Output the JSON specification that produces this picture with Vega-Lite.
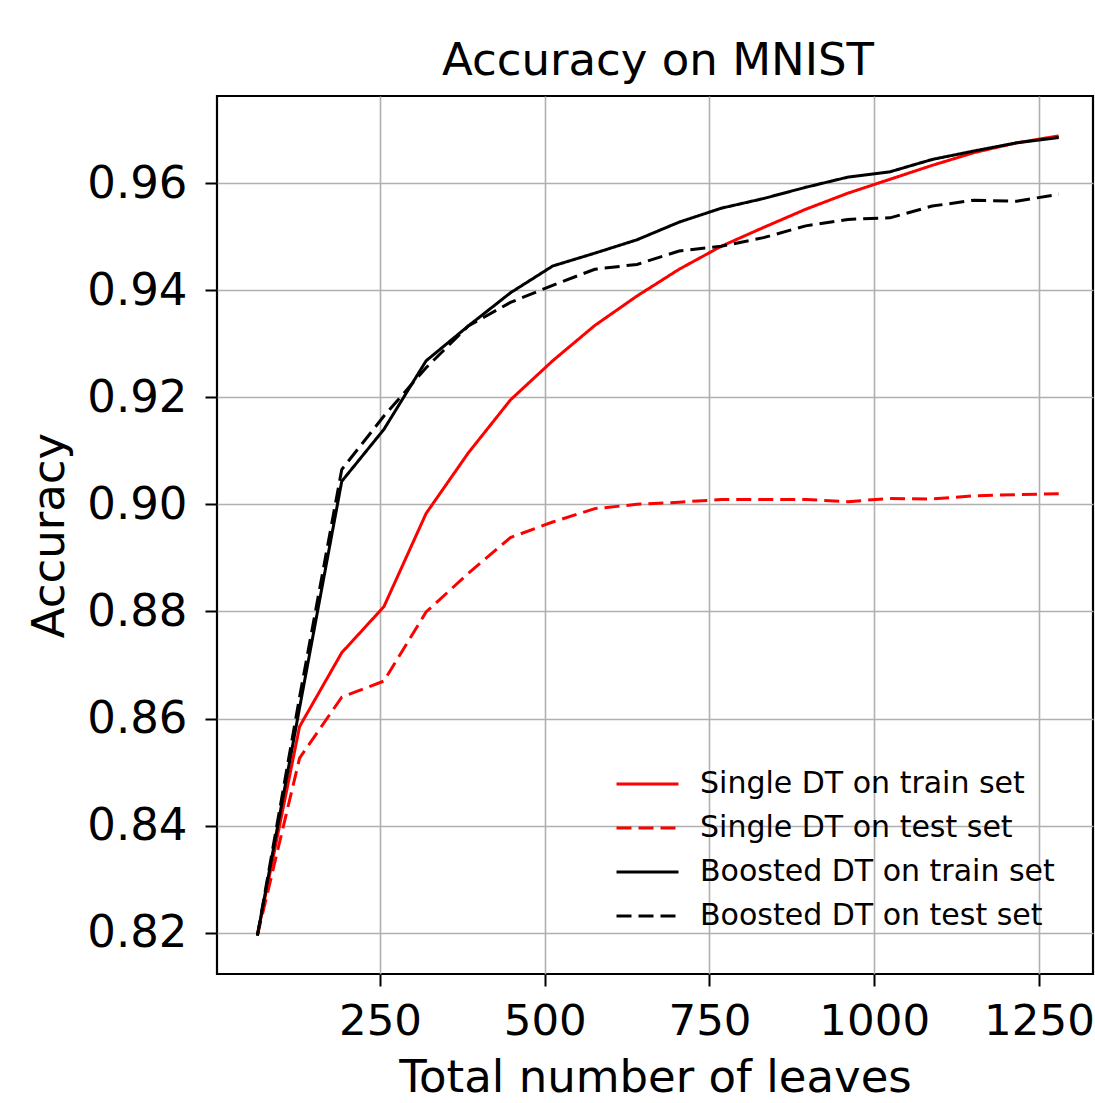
{
  "$schema": "https://vega.github.io/schema/vega-lite/v6.json",
  "autosize": "none",
  "width": 876,
  "height": 878,
  "padding": {"left": 217, "top": 96, "right": 2, "bottom": 129},
  "background": "white",
  "title": {"text": "Accuracy on MNIST", "anchor": "middle", "fontSize": 45, "font": "DejaVu Sans", "fontWeight": "normal", "color": "black", "offset": 12, "dx": 3},
  "config": {
    "font": "DejaVu Sans",
    "view": {"stroke": "black", "strokeWidth": 2.2},
    "axis": {
      "labelFont": "DejaVu Sans", "titleFont": "DejaVu Sans",
      "labelFontSize": 45, "titleFontSize": 45, "titleFontWeight": "normal",
      "labelColor": "black", "titleColor": "black",
      "domain": false,
      "ticks": true, "tickColor": "black", "tickWidth": 2, "tickSize": 12,
      "grid": true, "gridColor": "#b0b0b0", "gridWidth": 1.6
    },
    "legend": {
      "orient": "none", "legendX": 398, "legendY": 666,
      "title": null,
      "symbolType": "stroke", "symbolSize": 3844, "symbolStrokeWidth": 3,
      "labelFont": "DejaVu Sans", "labelFontSize": 30, "labelColor": "black",
      "labelOffset": 20, "clipHeight": 44, "rowPadding": 0, "labelLimit": 600
    }
  },
  "data": {"values": [
    {"leaves": 64, "acc": 0.8195, "series": "Single DT on train set"},
    {"leaves": 128, "acc": 0.8585, "series": "Single DT on train set"},
    {"leaves": 192, "acc": 0.8723, "series": "Single DT on train set"},
    {"leaves": 256, "acc": 0.8809, "series": "Single DT on train set"},
    {"leaves": 320, "acc": 0.8983, "series": "Single DT on train set"},
    {"leaves": 384, "acc": 0.9096, "series": "Single DT on train set"},
    {"leaves": 448, "acc": 0.9195, "series": "Single DT on train set"},
    {"leaves": 512, "acc": 0.9268, "series": "Single DT on train set"},
    {"leaves": 576, "acc": 0.9334, "series": "Single DT on train set"},
    {"leaves": 640, "acc": 0.9389, "series": "Single DT on train set"},
    {"leaves": 704, "acc": 0.9439, "series": "Single DT on train set"},
    {"leaves": 768, "acc": 0.9482, "series": "Single DT on train set"},
    {"leaves": 832, "acc": 0.9517, "series": "Single DT on train set"},
    {"leaves": 896, "acc": 0.9551, "series": "Single DT on train set"},
    {"leaves": 960, "acc": 0.9581, "series": "Single DT on train set"},
    {"leaves": 1024, "acc": 0.9607, "series": "Single DT on train set"},
    {"leaves": 1088, "acc": 0.9633, "series": "Single DT on train set"},
    {"leaves": 1152, "acc": 0.9657, "series": "Single DT on train set"},
    {"leaves": 1216, "acc": 0.9675, "series": "Single DT on train set"},
    {"leaves": 1280, "acc": 0.9688, "series": "Single DT on train set"},
    {"leaves": 64, "acc": 0.8195, "series": "Single DT on test set"},
    {"leaves": 128, "acc": 0.8526, "series": "Single DT on test set"},
    {"leaves": 192, "acc": 0.8640, "series": "Single DT on test set"},
    {"leaves": 256, "acc": 0.8670, "series": "Single DT on test set"},
    {"leaves": 320, "acc": 0.8799, "series": "Single DT on test set"},
    {"leaves": 384, "acc": 0.8871, "series": "Single DT on test set"},
    {"leaves": 448, "acc": 0.8938, "series": "Single DT on test set"},
    {"leaves": 512, "acc": 0.8967, "series": "Single DT on test set"},
    {"leaves": 576, "acc": 0.8992, "series": "Single DT on test set"},
    {"leaves": 640, "acc": 0.9000, "series": "Single DT on test set"},
    {"leaves": 704, "acc": 0.9004, "series": "Single DT on test set"},
    {"leaves": 768, "acc": 0.9009, "series": "Single DT on test set"},
    {"leaves": 832, "acc": 0.9009, "series": "Single DT on test set"},
    {"leaves": 896, "acc": 0.9009, "series": "Single DT on test set"},
    {"leaves": 960, "acc": 0.9005, "series": "Single DT on test set"},
    {"leaves": 1024, "acc": 0.9011, "series": "Single DT on test set"},
    {"leaves": 1088, "acc": 0.9010, "series": "Single DT on test set"},
    {"leaves": 1152, "acc": 0.9016, "series": "Single DT on test set"},
    {"leaves": 1216, "acc": 0.9018, "series": "Single DT on test set"},
    {"leaves": 1280, "acc": 0.9020, "series": "Single DT on test set"},
    {"leaves": 64, "acc": 0.8195, "series": "Boosted DT on train set"},
    {"leaves": 128, "acc": 0.8620, "series": "Boosted DT on train set"},
    {"leaves": 192, "acc": 0.9043, "series": "Boosted DT on train set"},
    {"leaves": 256, "acc": 0.9140, "series": "Boosted DT on train set"},
    {"leaves": 320, "acc": 0.9268, "series": "Boosted DT on train set"},
    {"leaves": 384, "acc": 0.9333, "series": "Boosted DT on train set"},
    {"leaves": 448, "acc": 0.9395, "series": "Boosted DT on train set"},
    {"leaves": 512, "acc": 0.9445, "series": "Boosted DT on train set"},
    {"leaves": 576, "acc": 0.9469, "series": "Boosted DT on train set"},
    {"leaves": 640, "acc": 0.9494, "series": "Boosted DT on train set"},
    {"leaves": 704, "acc": 0.9527, "series": "Boosted DT on train set"},
    {"leaves": 768, "acc": 0.9553, "series": "Boosted DT on train set"},
    {"leaves": 832, "acc": 0.9571, "series": "Boosted DT on train set"},
    {"leaves": 896, "acc": 0.9592, "series": "Boosted DT on train set"},
    {"leaves": 960, "acc": 0.9611, "series": "Boosted DT on train set"},
    {"leaves": 1024, "acc": 0.9621, "series": "Boosted DT on train set"},
    {"leaves": 1088, "acc": 0.9644, "series": "Boosted DT on train set"},
    {"leaves": 1152, "acc": 0.9660, "series": "Boosted DT on train set"},
    {"leaves": 1216, "acc": 0.9675, "series": "Boosted DT on train set"},
    {"leaves": 1280, "acc": 0.9685, "series": "Boosted DT on train set"},
    {"leaves": 64, "acc": 0.8195, "series": "Boosted DT on test set"},
    {"leaves": 128, "acc": 0.8640, "series": "Boosted DT on test set"},
    {"leaves": 192, "acc": 0.9065, "series": "Boosted DT on test set"},
    {"leaves": 256, "acc": 0.9165, "series": "Boosted DT on test set"},
    {"leaves": 320, "acc": 0.9255, "series": "Boosted DT on test set"},
    {"leaves": 384, "acc": 0.9333, "series": "Boosted DT on test set"},
    {"leaves": 448, "acc": 0.9377, "series": "Boosted DT on test set"},
    {"leaves": 512, "acc": 0.9409, "series": "Boosted DT on test set"},
    {"leaves": 576, "acc": 0.9439, "series": "Boosted DT on test set"},
    {"leaves": 640, "acc": 0.9448, "series": "Boosted DT on test set"},
    {"leaves": 704, "acc": 0.9473, "series": "Boosted DT on test set"},
    {"leaves": 768, "acc": 0.9482, "series": "Boosted DT on test set"},
    {"leaves": 832, "acc": 0.9498, "series": "Boosted DT on test set"},
    {"leaves": 896, "acc": 0.9520, "series": "Boosted DT on test set"},
    {"leaves": 960, "acc": 0.9532, "series": "Boosted DT on test set"},
    {"leaves": 1024, "acc": 0.9535, "series": "Boosted DT on test set"},
    {"leaves": 1088, "acc": 0.9557, "series": "Boosted DT on test set"},
    {"leaves": 1152, "acc": 0.9568, "series": "Boosted DT on test set"},
    {"leaves": 1216, "acc": 0.9566, "series": "Boosted DT on test set"},
    {"leaves": 1280, "acc": 0.9579, "series": "Boosted DT on test set"}
  ]},
  "mark": {"type": "line", "strokeWidth": 3, "clip": true},
  "encoding": {
    "x": {"field": "leaves", "type": "quantitative", "title": "Total number of leaves",
      "scale": {"domain": [2.7, 1332], "nice": false, "zero": false},
      "axis": {"values": [250, 500, 750, 1000, 1250], "format": "d", "labelFontSize": 43.5, "labelPadding": 14, "titlePadding": 13}},
    "y": {"field": "acc", "type": "quantitative", "title": "Accuracy",
      "scale": {"domain": [0.8123, 0.97625], "nice": false, "zero": false},
      "axis": {"values": [0.82, 0.84, 0.86, 0.88, 0.9, 0.92, 0.94, 0.96], "format": ".2f", "labelPadding": 18, "titlePadding": 14}},
    "color": {"field": "series", "type": "nominal",
      "scale": {"domain": ["Single DT on train set", "Single DT on test set", "Boosted DT on train set", "Boosted DT on test set"], "range": ["#ff0000", "#ff0000", "#000000", "#000000"]}},
    "strokeDash": {"field": "series", "type": "nominal",
      "scale": {"domain": ["Single DT on train set", "Single DT on test set", "Boosted DT on train set", "Boosted DT on test set"], "range": [[1, 0], [15, 7], [1, 0], [15, 7]]}}
  }
}
